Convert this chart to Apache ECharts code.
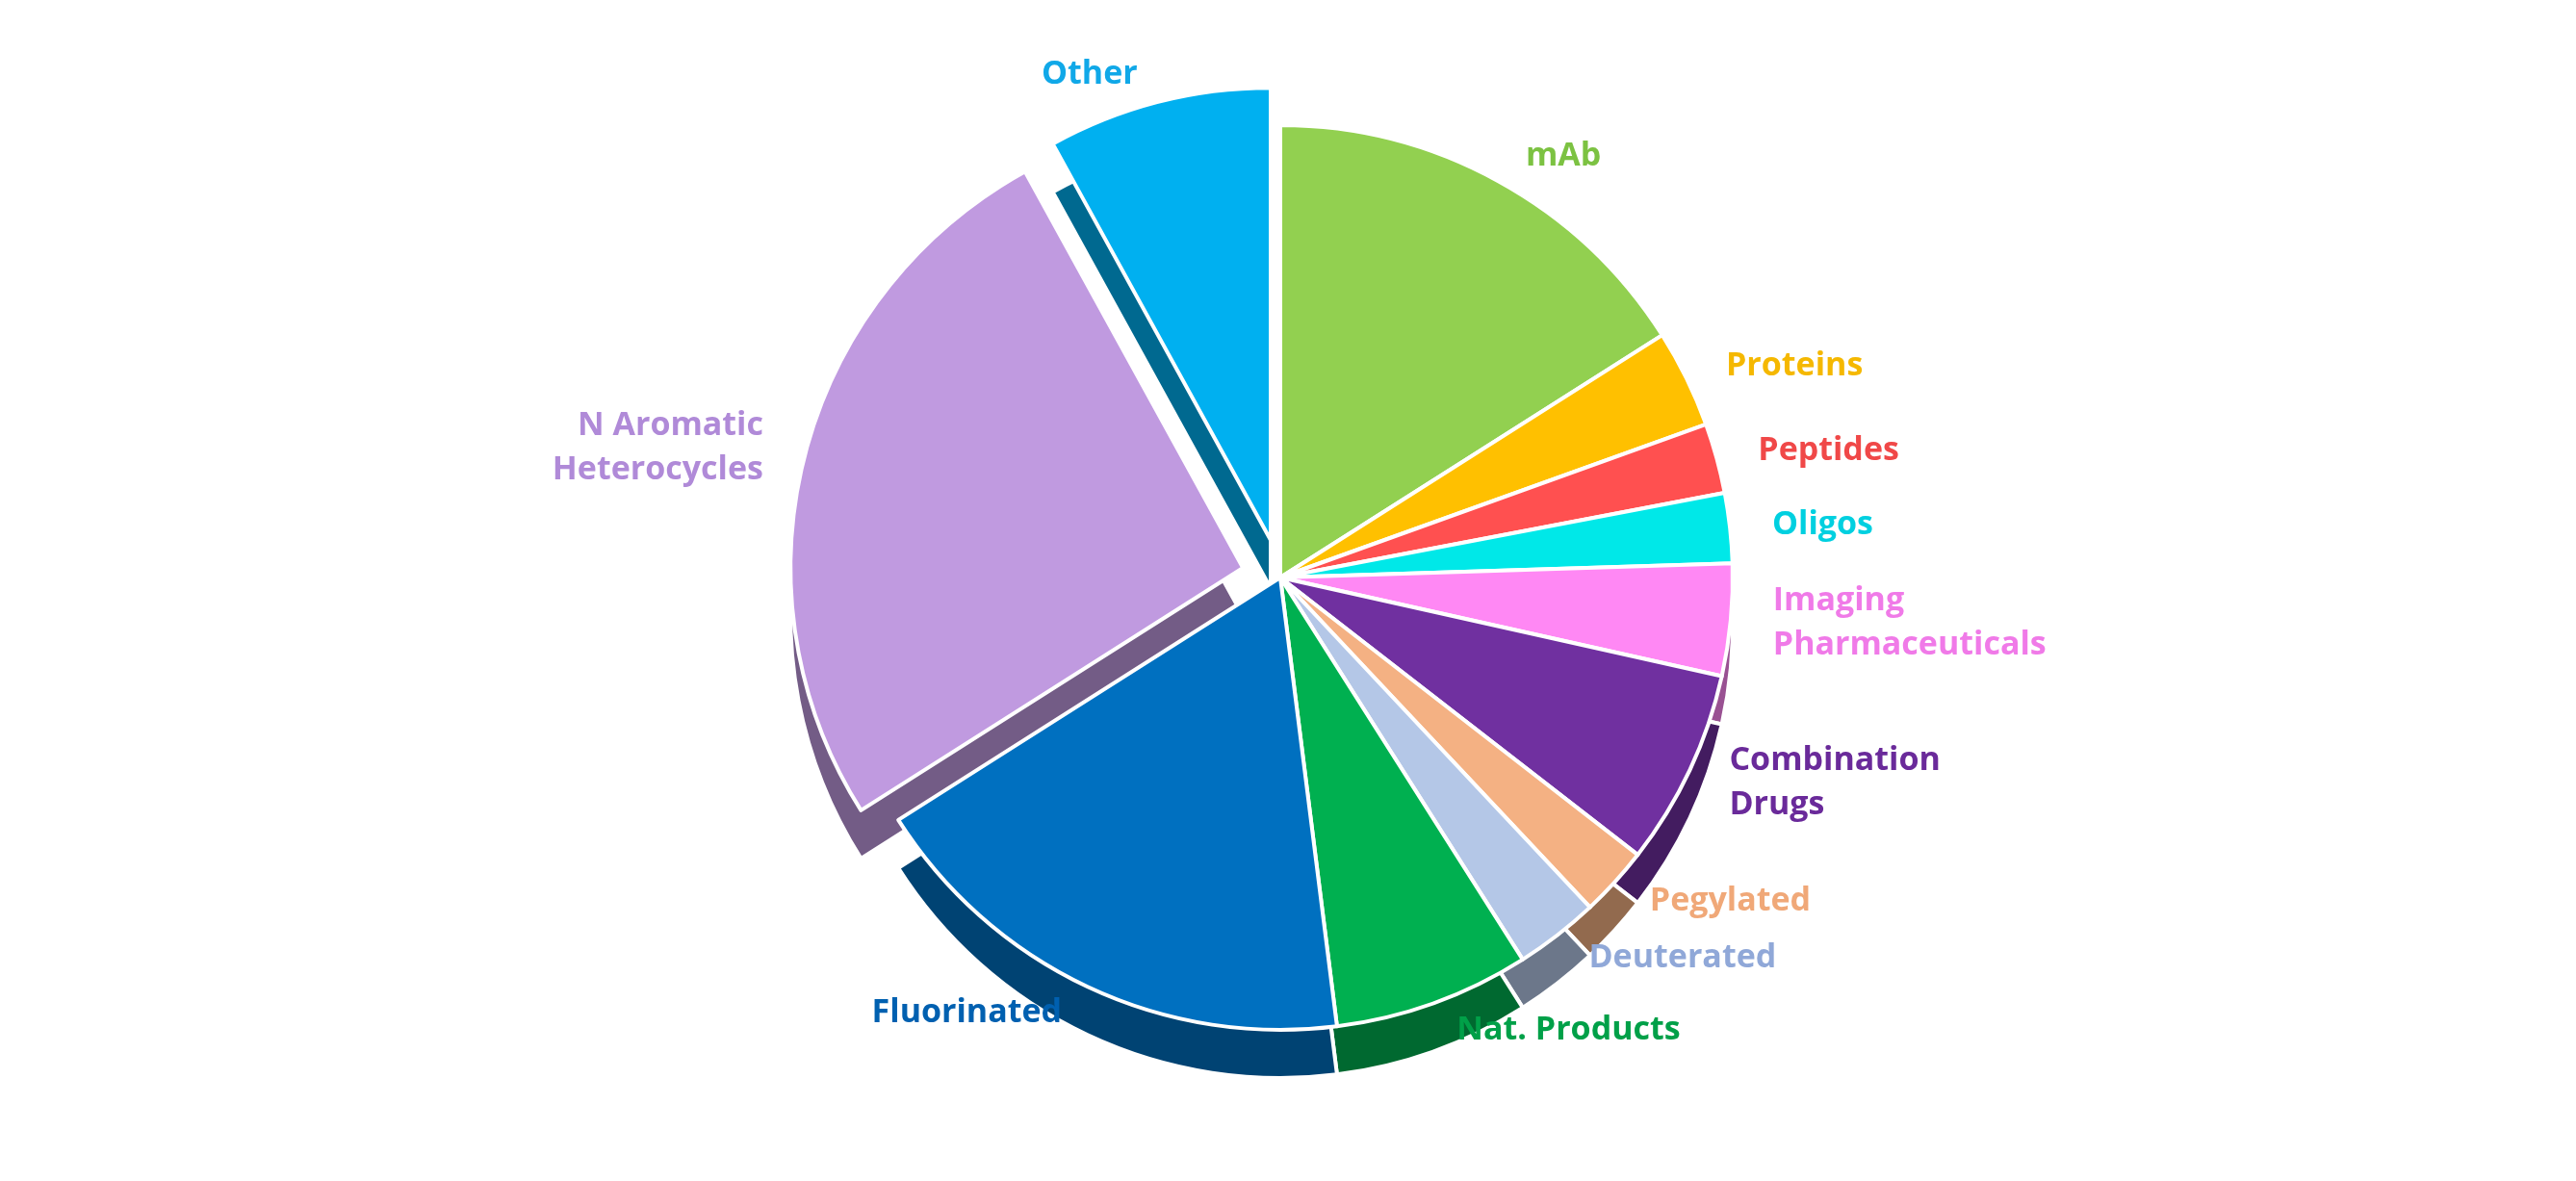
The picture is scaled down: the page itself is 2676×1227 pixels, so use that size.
<!DOCTYPE html>
<html><head><meta charset="utf-8">
<script src="https://cdn.jsdelivr.net/npm/echarts@6/dist/echarts.min.js"></script>
<style>html,body{margin:0;background:#fff}#c{width:2676px;height:1227px}</style>
</head><body><div id="c"></div>
<script>
const categories=["mAb","Proteins","Peptides","Oligos","Imaging\nPharmaceuticals","Combination\nDrugs","Pegylated","Deuterated","Nat. Products","Fluorinated","N Aromatic\nHeterocycles","Other"];
const values=[16,3.5,2.5,2.5,4,7,2.5,3,7,18,26,8];
const colors=["#92d050","#ffc000","#ff5050","#00e8e8","#ff88f4","#7030a0","#f4b183","#b4c7e7","#00b050","#0070c0","#c09ae0","#00b0f0"];
const labelColors=["#7cc242","#f5b800","#f04848","#00d0e0","#f07ae8","#6a2a9a","#f0a878","#90a8d8","#00a048","#0060b0","#b08ad8","#10a8e8"];
const exploded=[false,false,false,false,false,false,false,false,false,false,true,true];
function shade(h,f){const n=parseInt(h.slice(1),16);const r=(n>>16)*f|0,g=((n>>8)&255)*f|0,b=(n&255)*f|0;return `rgb(${r},${g},${b})`;}
const topData=categories.map((c,i)=>({name:c,value:values[i],selected:exploded[i],itemStyle:{color:colors[i]},label:{color:labelColors[i]}}));
const sideData=categories.map((c,i)=>({name:c,value:values[i],selected:exploded[i],itemStyle:{color:shade(colors[i],0.6)}}));
const chart=echarts.init(document.getElementById('c'));
chart.setOption({
 animation:false,
 series:[
  {type:'pie',center:[1330,650],radius:[0,470],startAngle:90,clockwise:true,selectedMode:'multiple',selectedOffset:40,
   data:sideData,label:{show:false},silent:true,z:1,itemStyle:{borderColor:'#fff',borderWidth:4}},
  {type:'pie',center:[1330,600],radius:[0,470],startAngle:90,clockwise:true,selectedMode:'multiple',selectedOffset:40,
   data:topData,z:2,itemStyle:{borderColor:'#fff',borderWidth:4},
   label:{show:true,position:'outside',fontSize:34,fontWeight:'bold',fontFamily:'Open Sans',lineHeight:46,distanceToLabelLine:4},
   labelLine:{show:false,length:30,length2:10}}
 ]
});
</script></body></html>
